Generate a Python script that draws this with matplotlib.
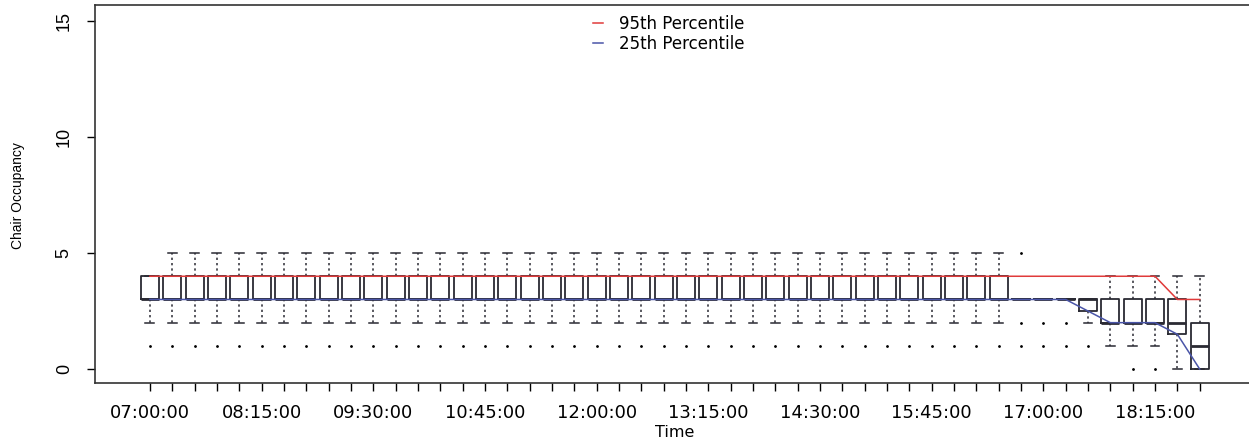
import matplotlib
matplotlib.use("Agg")
import matplotlib.pyplot as plt

# 15-minute slots from 07:00:00 to 18:45:00
slots = [f"{7 + i // 4:02d}:{(i % 4) * 15:02d}:00" for i in range(48)]

# box statistics per slot
q1 = [3] * 42 + [2.5, 2, 2, 2, 1.5, 0]
med = [3] * 42 + [3, 2, 2, 2, 2, 1]
q3 = [4] * 39 + [3, 3, 3, 3, 3, 3, 3, 3, 2]
whis_lo = [2] * 39 + [3, 3, 3, 2, 1, 1, 1, 0, 0]
whis_hi = [4] + [5] * 38 + [3, 3, 3, 3, 4, 4, 4, 4, 4]
outliers = [[1]] * 39 + [[5, 2, 1], [2, 1], [2, 1], [1], [], [0], [0], [], []]

# percentile lines
p95 = [4] * 46 + [3, 3]
p25 = [3] * 42 + [2.5, 2, 2, 2, 1.5, 0]

stats = []
for i in range(len(slots)):
    stats.append({
        "q1": q1[i], "med": med[i], "q3": q3[i],
        "whislo": whis_lo[i], "whishi": whis_hi[i],
        "fliers": outliers[i], "label": slots[i],
    })

plt.rcParams["font.family"] = "DejaVu Sans"

fig = plt.figure(figsize=(12.49, 4.40), dpi=100)
ax = fig.add_axes([95 / 1249, 57 / 440, 1165 / 1249, 378 / 440])

pos = list(range(len(slots)))

ax.bxp(
    stats, positions=pos, widths=0.8, capwidths=0.4,
    boxprops=dict(color="#2a2a33", lw=1.3),
    medianprops=dict(color="#2a2a33", lw=2.0),
    whiskerprops=dict(color="#2a2a33", lw=1.1, linestyle=(0, (1.5, 2))),
    capprops=dict(color="#2a2a33", lw=1.1),
    flierprops=dict(marker=".", markersize=2, markerfacecolor="black",
                    markeredgecolor="black", linestyle="none"),
    manage_ticks=False, zorder=2,
)

ax.plot(pos, p95, color="#e03a3a", lw=1.1, zorder=3, label="95th Percentile")
ax.plot(pos, p25, color="#4a55a8", lw=1.1, zorder=3, label="25th Percentile")

ax.set_xlim(-2.46, 49.7)
ax.set_ylim(-0.6, 15.69)

ax.set_xticks(pos)
ax.set_xticklabels([s if i % 5 == 0 else "" for i, s in enumerate(slots)], fontsize=13)
ax.tick_params(axis="x", length=6, width=1, pad=9)

ax.set_yticks([0, 5, 10, 15])
ax.set_yticklabels(["0", "5", "10", "15"], rotation=90, va="center",
                   fontsize=13, family="Liberation Sans")
ax.tick_params(axis="y", length=6, width=1, pad=10)

for side in ["left", "bottom", "top"]:
    ax.spines[side].set_linewidth(1.2)
    ax.spines[side].set_color("#333333")
ax.spines["right"].set_visible(False)

fig.text(18 / 1249, 1 - 196 / 440, "Chair Occupancy", rotation=90,
         ha="center", va="center", fontsize=10, family="Liberation Sans")
fig.text(675 / 1249, 1 - 432 / 440, "Time", ha="center", va="center", fontsize=11.5)

ax.legend(loc="upper left", bbox_to_anchor=(581 / 1249, 1 - 3 / 440),
          bbox_transform=fig.transFigure, frameon=False, fontsize=12,
          handlelength=0.6, handletextpad=1.0, labelspacing=0.15,
          borderpad=0.2)

fig.savefig("out.png", dpi=100)
